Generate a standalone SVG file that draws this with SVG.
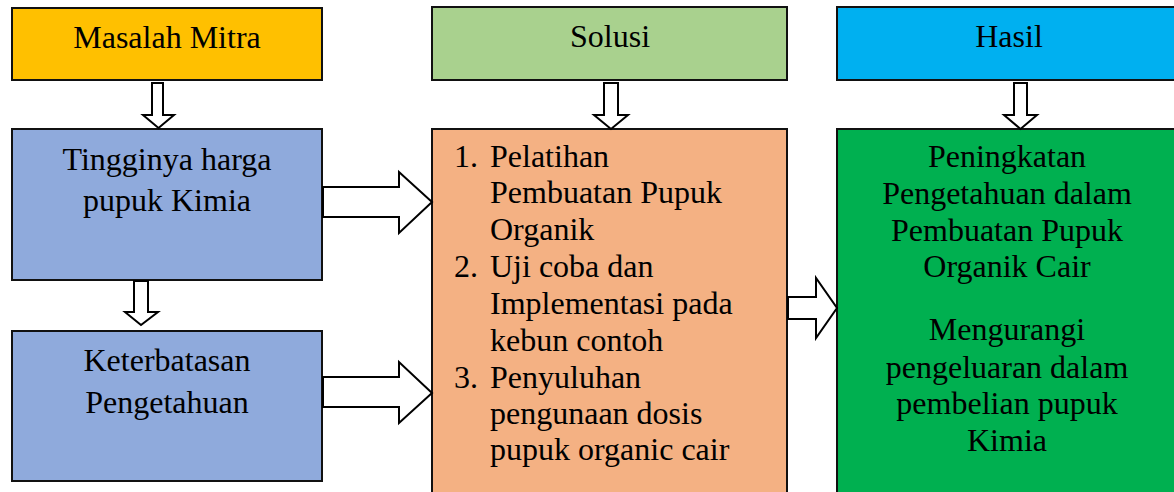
<svg xmlns="http://www.w3.org/2000/svg" width="1174" height="492" viewBox="0 0 1174 492">
<style>
.box{stroke:#111;stroke-width:2}
.t{font-family:'Liberation Serif','Times New Roman',serif;font-size:32px;fill:#000}
.c{text-anchor:middle}
.arr{fill:#fff;stroke:#000;stroke-width:2;stroke-linejoin:miter}
</style>
<rect width="1174" height="492" fill="#fff"/>
<g id="masalah">
<rect class="box" x="12" y="8" width="310" height="72" fill="#FFC000"/>
<text class="t c" x="167" y="48">Masalah Mitra</text>
</g>
<g id="solusi">
<rect class="box" x="432" y="7" width="355" height="73" fill="#A9D18E"/>
<text class="t c" x="610" y="47">Solusi</text>
</g>
<g id="hasil">
<rect class="box" x="837" y="7" width="340" height="73" fill="#00B0F0"/>
<text class="t c" x="1009" y="47">Hasil</text>
</g>
<g id="tingginya">
<rect class="box" x="12" y="129" width="310" height="151" fill="#8FAADC"/>
<text class="t c" x="167" y="170">Tingginya harga</text>
<text class="t c" x="167" y="211">pupuk Kimia</text>
</g>
<g id="keterbatasan">
<rect class="box" x="12" y="331" width="310" height="150" fill="#8FAADC"/>
<text class="t c" x="167" y="371">Keterbatasan</text>
<text class="t c" x="167" y="413">Pengetahuan</text>
</g>
<g id="solusi-list">
<rect class="box" x="432" y="129" width="355" height="370" fill="#F4B183"/>
<text class="t" x="454" y="167">1.</text>
<text class="t" x="490" y="167">Pelatihan</text>
<text class="t" x="490" y="203">Pembuatan Pupuk</text>
<text class="t" x="490" y="240">Organik</text>
<text class="t" x="454" y="277">2.</text>
<text class="t" x="490" y="277">Uji coba dan</text>
<text class="t" x="490" y="314">Implementasi pada</text>
<text class="t" x="490" y="351">kebun contoh</text>
<text class="t" x="454" y="388">3.</text>
<text class="t" x="490" y="388">Penyuluhan</text>
<text class="t" x="490" y="424">pengunaan dosis</text>
<text class="t" x="490" y="460">pupuk organic cair</text>
</g>
<g id="hasil-list">
<rect class="box" x="837" y="129" width="340" height="370" fill="#00B050"/>
<text class="t c" x="1007" y="167">Peningkatan</text>
<text class="t c" x="1007" y="204">Pengetahuan dalam</text>
<text class="t c" x="1007" y="241">Pembuatan Pupuk</text>
<text class="t c" x="1007" y="277">Organik Cair</text>
<text class="t c" x="1007" y="340">Mengurangi</text>
<text class="t c" x="1007" y="378">pengeluaran dalam</text>
<text class="t c" x="1007" y="414">pembelian pupuk</text>
<text class="t c" x="1007" y="451">Kimia</text>
</g>
<g id="connectors">
<polygon class="arr" points="152,83 163,83 163,115 174,115 158.5,128 143,115 152,115"/>
<polygon class="arr" points="604,83 618,83 618,115 628,115 611,129 594,115 604,115"/>
<polygon class="arr" points="1014,83 1027,83 1027,115 1037,115 1020.5,129 1004,115 1014,115"/>
<polygon class="arr" points="134,281 148,281 148,312 158,312 141,325 125,312 134,312"/>
<polygon class="arr" points="323,187 399,187 399,172 432,202 399,233 399,217 323,217"/>
<polygon class="arr" points="323,377 399,377 399,362 432,393 399,423 399,407 323,407"/>
<polygon class="arr" points="788,297 816,297 816,278 837,308 816,338 816,319 788,319"/>
</g>
</svg>
